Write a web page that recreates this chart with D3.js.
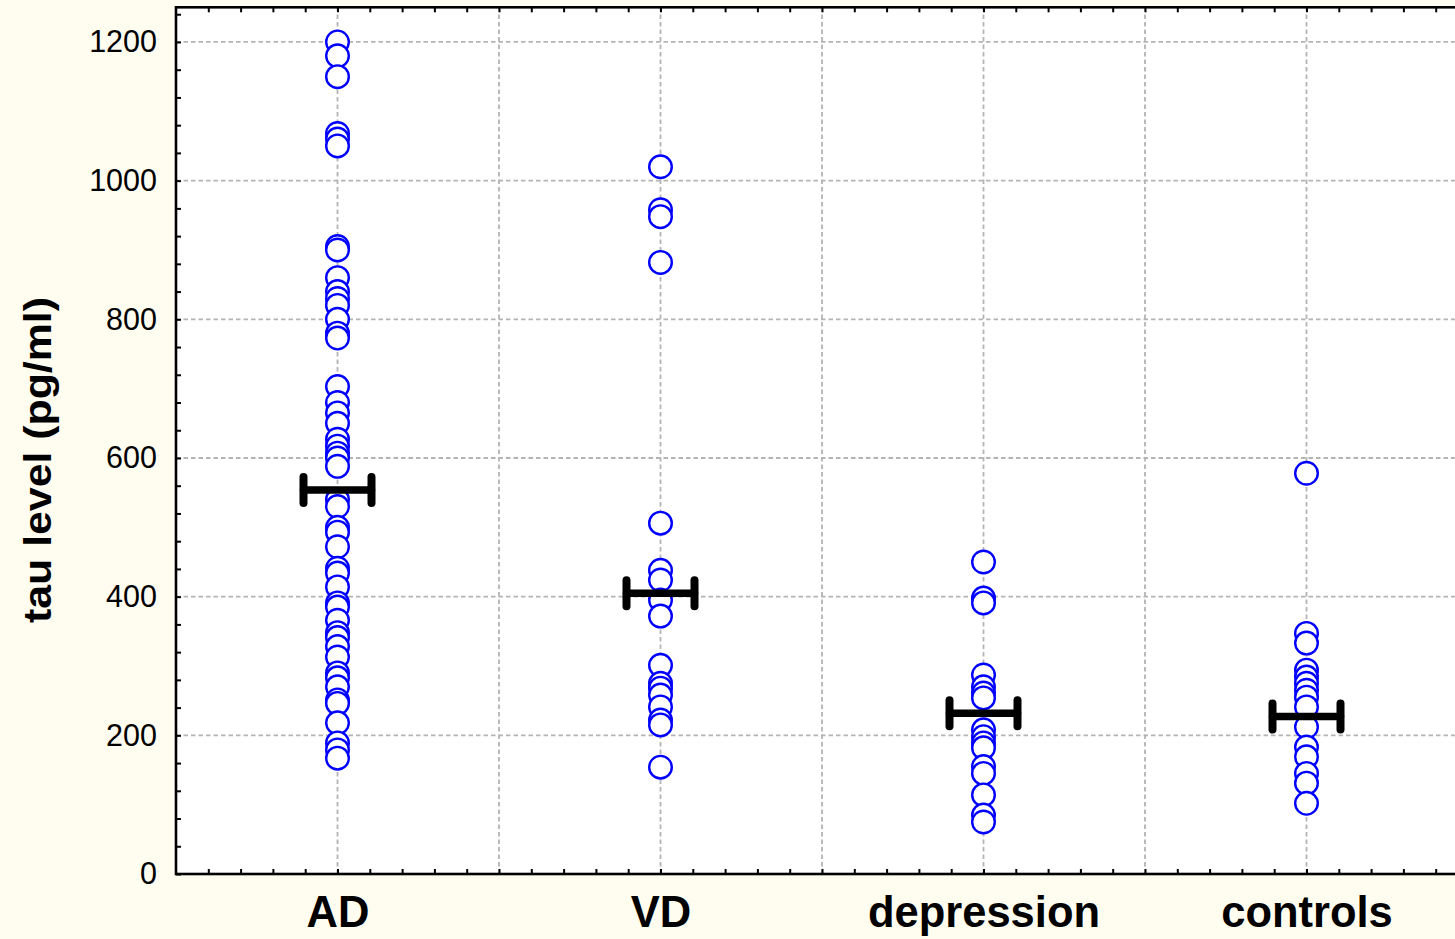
<!DOCTYPE html>
<html><head><meta charset="utf-8">
<script src="https://cdn.jsdelivr.net/npm/d3@7"></script>
<style>html,body{margin:0;padding:0;background:#fffdf0;}svg{display:block;}</style>
</head><body>
<script>
const categories = ["AD", "VD", "depression", "controls"];
const adValues = [1200, 1180, 1150, 1068, 1060, 1050, 905, 900, 860, 840, 830, 820, 800, 780, 773, 703, 680, 665, 650, 627, 617, 607, 600, 588, 540, 530, 500, 493, 472, 441, 434, 414, 391, 385, 366, 348, 341, 328, 313, 290, 283, 270, 251, 246, 218, 189, 179, 167];
const vdValues = [1020, 958, 948, 882, 506, 438, 424, 395, 372, 301, 275, 268, 258, 241, 222, 215, 154];
const depressionValues = [450, 398, 391, 287, 270, 261, 254, 208, 198, 189, 182, 155, 145, 114, 85, 75];
const controlsValues = [578, 347, 333, 294, 284, 275, 265, 255, 241, 212, 183, 169, 145, 131, 102];
const centerValues = [554, 405, 232, 227];
const yTicks = [0, 200, 400, 600, 800, 1000, 1200];

const W = 1455, H = 939;
const svg = d3.select("body").append("svg").attr("width", W).attr("height", H);
svg.append("rect").attr("width", W).attr("height", H).attr("fill", "#fffdf0");

const x = d3.scaleLinear().domain([0.5, 4.5]).range([176, 176 + 4 * 323]);
const y = d3.scaleLinear().domain([0, 1250]).range([874, 7.3]);

// plot background
svg.append("rect").attr("x", x(0.5)).attr("y", y(1250)).attr("width", x(4.5) - x(0.5)).attr("height", y(0) - y(1250)).attr("fill", "#ffffff");

const grid = svg.append("g");
grid.selectAll("line.h").data(yTicks.filter(d => d > 0)).join("line")
  .attr("x1", x(0.5)).attr("x2", x(4.5)).attr("y1", d => y(d)).attr("y2", d => y(d))
  .attr("stroke", "#b4b4b4").attr("stroke-width", 1.8).attr("stroke-dasharray", "4.5,3");
const vGrid = d3.range(1, 8).map(i => 0.5 + i * 0.5);
grid.selectAll("line.v").data(vGrid).join("line")
  .attr("x1", d => x(d)).attr("x2", d => x(d)).attr("y1", y(0)).attr("y2", y(1250))
  .attr("stroke", "#b4b4b4").attr("stroke-width", 1.8).attr("stroke-dasharray", "4.5,3");

// points
const series = [adValues, vdValues, depressionValues, controlsValues];
const pts = [];
series.forEach((vals, i) => vals.slice().sort((a, b) => b - a).forEach(v => pts.push({c: i + 1, v})));
svg.append("g").selectAll("circle").data(pts).join("circle")
  .attr("cx", d => x(d.c)).attr("cy", d => y(d.v)).attr("r", 11.3)
  .attr("fill", "#ffffff").attr("stroke", "#0000ff").attr("stroke-width", 2.4);

// center bars
const bars = svg.append("g").attr("stroke", "#000").attr("stroke-linecap", "round");
const half = 34;
centerValues.forEach((v, i) => {
  const cx = x(i + 1), cy = y(v);
  bars.append("line").attr("x1", cx - half).attr("x2", cx + half).attr("y1", cy).attr("y2", cy).attr("stroke-width", 7.5);
  [cx - half, cx + half].forEach(ex => {
    bars.append("line").attr("x1", ex).attr("x2", ex).attr("y1", cy - 13).attr("y2", cy + 13).attr("stroke-width", 8);
  });
});

// axes (ticks inward)
const axL = d3.axisLeft(y).tickValues(yTicks).tickSize(0).tickPadding(19).tickFormat(d3.format("d"));
const gL = svg.append("g").attr("transform", `translate(${x(0.5)},0)`).call(axL);
gL.select(".domain").remove();
gL.selectAll("text").attr("font-family", "Liberation Sans, Arial, sans-serif").attr("font-size", 30.5).attr("fill", "#000");

const gLt = svg.append("g").attr("transform", `translate(${x(0.5)},0)`)
  .call(d3.axisRight(y).tickValues(d3.range(0, 1250, 40)).tickSize(5).tickFormat(""));
gLt.select(".domain").remove();
gLt.selectAll("line").attr("stroke", "#000").attr("stroke-width", 2);

const xTickVals = d3.range(6, 45).map(i => i / 10);
const gBt = svg.append("g").attr("transform", `translate(0,${y(0)})`)
  .call(d3.axisTop(x).tickValues(xTickVals).tickSize(5).tickFormat(""));
gBt.select(".domain").remove();
gBt.selectAll("line").attr("stroke", "#000").attr("stroke-width", 2);
const gTt = svg.append("g").attr("transform", `translate(0,${y(1250)})`)
  .call(d3.axisBottom(x).tickValues(xTickVals).tickSize(5).tickFormat(""));
gTt.select(".domain").remove();
gTt.selectAll("line").attr("stroke", "#000").attr("stroke-width", 2);

// category labels
const axB = d3.axisBottom(x).tickValues([1, 2, 3, 4]).tickSize(0).tickPadding(22).tickFormat(d => categories[d - 1]);
const gB = svg.append("g").attr("transform", `translate(0,${y(0)})`).call(axB);
gB.select(".domain").remove();
gB.selectAll("text").attr("font-family", "Liberation Sans, Arial, sans-serif").attr("font-size", 43.5).attr("font-weight", "bold").attr("fill", "#000");

// frame
svg.append("rect").attr("x", x(0.5)).attr("y", y(1250)).attr("width", x(4.5) - x(0.5)).attr("height", y(0) - y(1250))
  .attr("fill", "none").attr("stroke", "#000").attr("stroke-width", 2.6);

// y title
svg.append("text").attr("transform", `translate(51,460) rotate(-90)`).attr("text-anchor", "middle")
  .attr("font-family", "Liberation Sans, Arial, sans-serif").attr("font-size", 38).attr("font-weight", "bold")
  .attr("textLength", 326).attr("lengthAdjust", "spacingAndGlyphs")
  .text("tau level (pg/ml)");
</script>
</body></html>
